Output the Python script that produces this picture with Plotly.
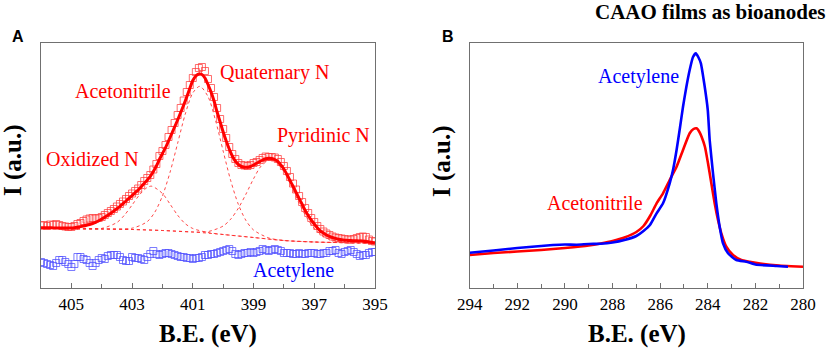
import plotly.graph_objects as go

# ---------------- Panel A : N1s ----------------
ev_grid = [round(406.0 - 0.1 * i, 1) for i in range(111)]

n1s_acetonitrile_pts = [
    62.5, 63, 62, 63.5, 63, 64, 63, 62, 61.5, 61,
    61, 62, 64, 65, 67, 68.5, 69.5, 70, 69.5, 70,
    71, 73, 75, 77, 79, 81.5, 84, 86.5, 89, 92,
    94.5, 97, 99.5, 103, 107, 110, 113, 118.5, 124, 132,
    137, 143, 151, 158, 165, 173, 180, 187.5, 196, 203,
    210, 216, 220, 221, 217, 209, 200, 191, 180, 169,
    159, 150, 141, 134, 129, 125, 123, 122.5, 122, 123,
    125, 126, 128, 130, 131.5, 131, 131, 130.5, 129, 126,
    122, 117, 111, 104.5, 98.5, 92, 86, 80, 75, 70,
    66, 62, 59, 56.5, 54.5, 53, 51.5, 50.5, 50, 49.5,
    49, 48.5, 48.5, 49, 50, 51, 51.5, 51, 48.5, 47,
    46.5]

n1s_fit = [
    60.3, 60.3, 60.2, 60.2, 60.1, 60.1, 60.0, 60.0, 60.0, 60.0,
    60.0, 60.3, 60.8, 61.4, 62.0, 62.7, 63.5, 64.5, 65.7, 67.2,
    69.0, 70.7, 72.7, 74.8, 77.0, 79.2, 81.7, 84.3, 87.0, 89.8,
    92.5, 95.3, 98.0, 101.3, 104.7, 108.0, 111.7, 116.5, 122.0, 128.5,
    134.5, 140.3, 147.0, 154.0, 161.0, 168.0, 175.5, 183.0, 191.0, 199.5,
    207.5, 212.0, 214.0, 213.5, 210.0, 203.5, 196.0, 187.0, 176.0, 166.0,
    156.0, 147.0, 139.0, 132.0, 127.0, 123.5, 121.5, 120.8, 120.7, 121.5,
    123.0, 124.7, 126.3, 128.0, 129.3, 129.8, 129.5, 128.5, 126.5, 123.0,
    119.0, 113.5, 107.5, 101.7, 95.7, 89.5, 83.7, 77.5, 72.5, 68.0,
    64.0, 60.3, 57.0, 55.0, 53.0, 51.6, 50.5, 49.6, 48.8, 48.2,
    47.8, 47.6, 47.4, 47.3, 47.2, 47.0, 46.8, 46.4, 46.0, 45.6,
    45.3]

n1s_acetylene_pts = [
    26, 25, 24, 23, 22, 25, 28, 28, 26, 24,
    21, 24, 31, 31, 29, 28, 25, 22, 25, 28,
    30, 29, 32, 33, 33, 33, 31, 28, 27, 27,
    31, 30, 30, 29, 28, 31, 34, 37, 34, 33,
    34, 35, 35, 34, 33, 32, 31, 31, 30, 30,
    29, 30, 30, 31, 33, 33, 34, 34, 35, 36,
    37, 38, 39, 37, 34, 33, 34, 35, 35, 36,
    35, 36, 37, 39, 38, 37, 38, 39, 38, 37,
    35, 35, 35, 34, 34, 35, 34, 34, 35, 35,
    35, 34, 34, 35, 35, 37, 37, 38, 35, 34,
    36, 37, 38, 36, 34, 32, 33, 33, 35, 36,
    36]

bg_ev = [406.0, 405.0, 404.0, 403.0, 402.0, 401.0, 400.0, 399.0, 398.0, 397.0, 396.0, 395.0]
bg_val = [59.5, 59.3, 59.0, 58.5, 57.5, 56.0, 53.5, 50.5, 47.5, 46.0, 45.3, 44.8]

oxid_ev = [406.0, 405.0, 404.5, 404.0, 403.5, 403.25, 403.0, 402.75, 402.5, 402.35,
           402.0, 401.75, 401.5, 401.25, 401.0, 400.5, 400.0, 399.0, 398.0, 397.0, 396.0, 395.0]
oxid_val = [59.5, 59.3, 59.2, 59.6, 65.5, 72.9, 83.0, 93.4, 100.6, 101.8,
            94.5, 83.9, 72.8, 64.3, 59.5, 55.5, 53.5, 50.5, 47.5, 46.0, 45.3, 44.8]

quat_ev = [406.0, 405.0, 404.0, 403.0, 402.5, 402.25, 402.0, 401.75, 401.5, 401.25, 401.0,
           400.77, 400.5, 400.25, 400.0, 399.75, 399.5, 399.25, 399.0, 398.5, 398.0, 397.0, 396.0, 395.0]
quat_val = [59.5, 59.3, 59.1, 59.8, 66.4, 75.9, 92.1, 115.7, 144.7, 173.8, 195.1,
            201.7, 191.5, 167.4, 136.9, 107.2, 83.6, 67.5, 58.0, 50.1, 47.5, 46.0, 45.3, 44.8]

pyr_ev = [406.0, 405.0, 404.0, 403.0, 402.0, 401.0, 400.5, 400.0, 399.75, 399.5, 399.25, 399.0,
          398.75, 398.41, 398.0, 397.75, 397.5, 397.25, 397.0, 396.75, 396.5, 396.0, 395.0]
pyr_val = [59.5, 59.3, 59.0, 58.5, 57.5, 56.0, 56.4, 62.0, 68.9, 79.8, 93.9, 109.2,
           121.9, 128.8, 116.4, 101.3, 84.9, 70.5, 59.7, 52.7, 48.7, 45.8, 44.8]

# ---------------- Panel B : C1s ----------------
c1s_acetonitrile_ev = [294.0, 293.0, 292.0, 291.0, 290.0, 289.0, 288.5, 288.0, 287.5, 287.0,
                       286.7, 286.4, 286.15, 285.88, 285.6, 285.31, 285.04, 284.76, 284.6, 284.47,
                       284.35, 284.26, 284.12, 283.99, 283.85, 283.71, 283.57, 283.43, 283.22, 282.94,
                       282.59, 282.24, 281.8, 281.0, 280.5, 280.0]
c1s_acetonitrile = [33, 35, 36.5, 38, 40, 42.5, 44.5, 47, 50.5, 56,
                    62, 73, 84.7, 94.7, 108, 121.3, 138, 154.7, 159, 159.7,
                    156, 151.3, 141.3, 124.7, 104.7, 84.7, 68, 54.7, 41.3, 33,
                    28, 26.3, 24.5, 22.5, 21.8, 21.3]

c1s_acetylene_ev = [294.0, 293.0, 292.0, 291.0, 290.5, 290.0, 289.5, 289.0, 288.5, 288.0,
                    287.5, 287.0, 286.7, 286.43, 286.15, 285.88, 285.6, 285.46, 285.31, 285.17,
                    285.04, 284.9, 284.76, 284.62, 284.5, 284.4, 284.29, 284.15, 284.0, 283.92,
                    283.78, 283.64, 283.5, 283.36, 283.15, 282.8, 282.38, 282.0, 281.1, 280.63]
c1s_acetylene = [35.3, 37.5, 40, 42, 43, 43.5, 43.3, 44, 44.3, 45.5,
                 48, 52, 57, 63, 74.7, 84.7, 104.7, 118, 138, 160,
                 181.3, 201, 218, 231, 234.7, 231, 224.7, 204.7, 178, 148,
                 114.7, 84.7, 61.3, 44.7, 34.7, 28, 26.3, 23.5, 22, 21.3]

ticks_a = [405, 403, 401, 399, 397, 395]
ticks_b = [294, 292, 290, 288, 286, 284, 282, 280]

RED = "#ff0000"
BLUE = "#0000ff"
SERIF = "Liberation Serif"
SANS = "Liberation Sans"

fig = go.Figure()

dot = dict(color="rgba(255,40,40,0.85)", width=1, dash="dot")
for xs, ys in [(bg_ev, bg_val), (oxid_ev, oxid_val), (quat_ev, quat_val), (pyr_ev, pyr_val)]:
    fig.add_trace(go.Scatter(x=xs, y=ys, mode="lines", line=dict(shape="spline", smoothing=0.8, **dot),
                             xaxis="x", yaxis="y", showlegend=False, hoverinfo="skip"))

fig.add_trace(go.Scatter(x=ev_grid, y=n1s_acetonitrile_pts, mode="markers",
                         marker=dict(symbol="square-open", size=7, color="rgba(255,60,60,0.75)",
                                     line=dict(width=1)),
                         xaxis="x", yaxis="y", showlegend=False))
fig.add_trace(go.Scatter(x=ev_grid, y=n1s_acetylene_pts, mode="markers",
                         marker=dict(symbol="square-open", size=7, color="rgba(80,80,255,0.75)",
                                     line=dict(width=1)),
                         xaxis="x", yaxis="y", showlegend=False))
fig.add_trace(go.Scatter(x=ev_grid, y=n1s_fit, mode="lines",
                         line=dict(color=RED, width=3, shape="spline", smoothing=0.6),
                         xaxis="x", yaxis="y", showlegend=False))

fig.add_trace(go.Scatter(x=c1s_acetonitrile_ev, y=c1s_acetonitrile, mode="lines",
                         line=dict(color=RED, width=2.6, shape="spline", smoothing=0.5),
                         xaxis="x2", yaxis="y2", showlegend=False))
fig.add_trace(go.Scatter(x=c1s_acetylene_ev, y=c1s_acetylene, mode="lines",
                         line=dict(color=BLUE, width=2.6, shape="spline", smoothing=0.5),
                         xaxis="x2", yaxis="y2", showlegend=False))

frame = "#707070"
common_x = dict(showline=True, mirror=True, linecolor=frame, linewidth=1.3, showgrid=False,
                zeroline=False, ticks="inside", ticklen=5, tickcolor=frame, tickwidth=1,
                tickfont=dict(family=SERIF, size=17, color="black"),
                minor=dict(ticks="inside", ticklen=4, tickcolor=frame, dtick=1, showgrid=False))
common_y = dict(showline=True, mirror=True, linecolor=frame, linewidth=1.3, showgrid=False,
                zeroline=False, showticklabels=False, ticks="", range=[0, 245])

fig.update_layout(
    width=827, height=348,
    margin=dict(l=41, r=24, t=43, b=60),
    font=dict(family=SERIF, color="black"),
    plot_bgcolor="white", paper_bgcolor="white",
    xaxis=dict(domain=[0, 0.4383], range=[406, 395], tickmode="array", tickvals=ticks_a, **common_x),
    yaxis=dict(domain=[0, 1], anchor="x", **common_y),
    xaxis2=dict(domain=[0.5626, 1.0], range=[294, 280], tickmode="array", tickvals=ticks_b,
                anchor="y2", **common_x),
    yaxis2=dict(domain=[0, 1], anchor="x2", **common_y),
)

def lab(text, x, y, xref, yref, color, size=20, family=SERIF, xanchor="center", yanchor="middle", **kw):
    fig.add_annotation(text=text, x=x, y=y, xref=xref, yref=yref, showarrow=False,
                       xanchor=xanchor, yanchor=yanchor,
                       font=dict(family=family, size=size, color=color), **kw)

# Panel A labels
lab("Acetonitrile", 403.31, 197.3, "x", "y", RED)
lab("Quaternary N", 398.3, 215.3, "x", "y", RED)
lab("Pyridinic N", 396.7, 153, "x", "y", RED)
lab("Oxidized N", 404.31, 128.7, "x", "y", RED)
lab("Acetylene", 397.69, 17.3, "x", "y", BLUE)
# Panel B labels
lab("Acetylene", 286.92, 212, "x2", "y2", BLUE)
lab("Acetonitrile", 288.74, 84.7, "x2", "y2", RED)

def px(xp):
    return (xp - 41) / 762.0

def py(yp):
    return (288 - yp) / 245.0

# Axis titles
lab("<b>B.E. (eV)</b>", px(208), py(334), "paper", "paper", "black", size=25)
lab("<b>B.E. (eV)</b>", px(636.5), py(334), "paper", "paper", "black", size=25)
lab("<b>I (a.u.)</b>", px(13), py(160), "paper", "paper", "black", size=25, textangle=-90)
lab("<b>I (a.u.)</b>", px(442), py(161), "paper", "paper", "black", size=25, textangle=-90)
# Panel letters
lab("<b>A</b>", px(18), py(37), "paper", "paper", "black", size=16, family=SANS)
lab("<b>B</b>", px(448), py(37), "paper", "paper", "black", size=16, family=SANS)
# Title
lab("<b>CAAO films as bioanodes</b>", px(827), py(12), "paper", "paper", "black", size=21,
    xanchor="right")

fig.write_html("out.html", config={"displayModeBar": False},
               post_script="document.body.style.margin='0px';")
